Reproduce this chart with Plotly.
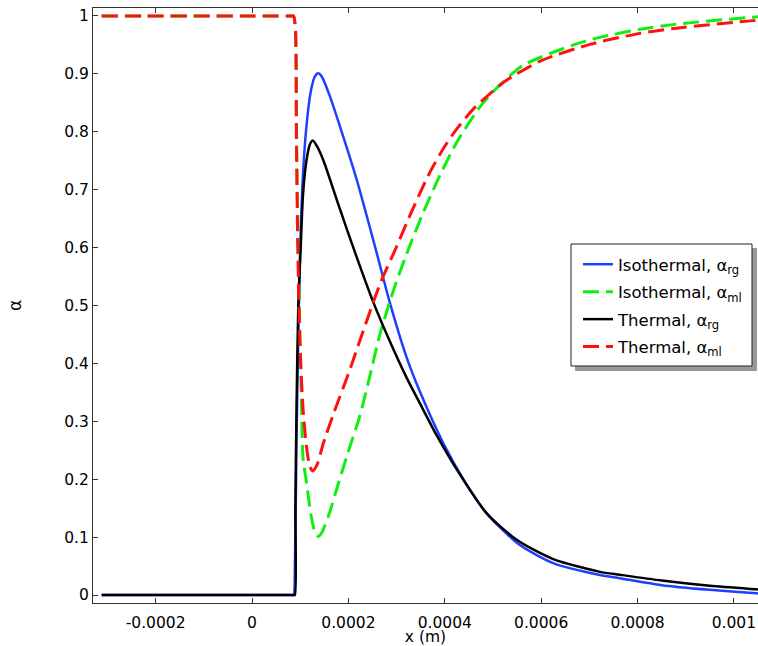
import plotly.graph_objects as go

# x in units of 1e-4 m
iso_rg_x = [-3.12, -2.0, -1.0, 0.0, 0.5, 0.8, 0.86, 0.89, 0.92, 0.96, 1.0, 1.06, 1.13, 1.22, 1.3,
            1.376, 1.45, 1.6, 1.826, 2.17, 2.59, 2.86, 3.21, 3.49, 3.97, 4.4, 4.87, 5.5, 6.25,
            7.22, 7.63, 8.5, 9.5, 10.47, 10.6]
iso_rg_y = [0, 0, 0, 0, 0, 0, 0, 0.05, 0.25, 0.45, 0.60, 0.73, 0.81, 0.87, 0.895,
            0.901, 0.895, 0.865, 0.809, 0.718, 0.59, 0.505, 0.41, 0.35, 0.262, 0.198, 0.141, 0.090,
            0.055, 0.0345, 0.029, 0.017, 0.009, 0.003, 0.002]

iso_ml_x = [-3.12, -2.0, -1.0, 0.0, 0.5, 0.8, 0.86, 0.90, 0.93, 0.97, 1.02, 1.06, 1.13, 1.22, 1.30,
            1.376, 1.45, 1.6, 1.8, 2.03, 2.24, 2.45, 2.66, 2.95, 3.24, 3.55, 3.90, 4.25, 4.73, 5.07,
            5.63, 6.67, 7.22, 8.05, 8.81, 10.4, 10.6]
iso_ml_y = [1, 1, 1, 1, 1, 1, 1, 0.97, 0.75, 0.55, 0.36, 0.235, 0.195, 0.14, 0.11,
            0.101, 0.108, 0.14, 0.195, 0.256, 0.31, 0.38, 0.452, 0.53, 0.596, 0.66, 0.725, 0.782,
            0.843, 0.875, 0.915, 0.950, 0.963, 0.977, 0.986, 0.998, 0.999]

th_rg_x = [-3.12, -2.0, -1.0, 0.0, 0.5, 0.8, 0.87, 0.89, 0.90, 0.92, 0.96, 1.01, 1.06, 1.13, 1.2,
           1.26, 1.35, 1.48, 1.83, 2.17, 2.52, 2.85, 3.21, 3.49, 3.83, 4.3, 4.87, 5.5, 6.25, 7.22,
           7.63, 8.5, 9.5, 10.47, 10.6]
th_rg_y = [0, 0, 0, 0, 0, 0, 0, 0, 0.15, 0.3, 0.5, 0.60, 0.694, 0.75, 0.778,
           0.785, 0.775, 0.751, 0.665, 0.584, 0.505, 0.44, 0.375, 0.33, 0.276, 0.21, 0.141, 0.095,
           0.062, 0.040, 0.035, 0.025, 0.016, 0.0098, 0.009]

th_ml_x = [-3.12, -2.0, -1.0, 0.0, 0.5, 0.8, 0.86, 0.90, 0.92, 0.95, 1.0, 1.06, 1.13, 1.2, 1.26,
           1.35, 1.48, 1.7, 2.0, 2.17, 2.4, 2.66, 2.97, 3.3, 3.69, 4.0, 4.25, 4.6, 4.94, 5.28, 5.98,
           7.01, 8.05, 8.81, 10.4, 10.6]
th_ml_y = [1, 1, 1, 1, 1, 1, 1, 0.98, 0.80, 0.60, 0.42, 0.32, 0.256, 0.222, 0.214,
           0.225, 0.262, 0.315, 0.382, 0.423, 0.478, 0.538, 0.596, 0.66, 0.73, 0.775, 0.805, 0.84,
           0.866, 0.889, 0.922, 0.951, 0.970, 0.979, 0.992, 0.993]

xtick_vals = [-0.0002, 0, 0.0002, 0.0004, 0.0006, 0.0008, 0.001]
xtick_text = ["-0.0002", "0", "0.0002", "0.0004", "0.0006", "0.0008", "0.001"]
ytick_vals = [0, 0.1, 0.2, 0.3, 0.4, 0.5, 0.6, 0.7, 0.8, 0.9, 1]
ytick_text = ["0", "0.1", "0.2", "0.3", "0.4", "0.5", "0.6", "0.7", "0.8", "0.9", "1"]

def sc(xs):
    return [v * 1e-4 for v in xs]

def line(color, dash=None, width=2.5):
    return dict(color=color, width=width, dash=dash, shape="spline", smoothing=0.7)

fig = go.Figure()
fig.add_trace(go.Scatter(x=sc(iso_rg_x), y=iso_rg_y, mode="lines", name="Isothermal, α<sub>rg</sub>",
                         line=line("#1f3fff"), legendgroup="a"))
fig.add_trace(go.Scatter(x=sc(iso_ml_x), y=iso_ml_y, mode="lines", name="Isothermal, α<sub>ml</sub>",
                         line=line("#11ee11", "16px,7px", 3), legendgroup="b"))
fig.add_trace(go.Scatter(x=sc(th_rg_x), y=th_rg_y, mode="lines", name="Thermal, α<sub>rg</sub>",
                         line=line("black"), legendgroup="c"))
fig.add_trace(go.Scatter(x=sc(th_ml_x), y=th_ml_y, mode="lines", name="Thermal, α<sub>ml</sub>",
                         line=line("#ff1111", "16px,7px", 3), legendgroup="d"))

W, H = 758, 646
L, R, T, B = 93, 0, 8, 43
pw, ph = W - L - R, H - T - B

def px(x):
    return (x - L) / pw

def py(y):
    return (H - B - y) / ph

# legend shadow and box
fig.add_shape(type="rect", xref="paper", yref="paper",
              x0=px(575), x1=px(757), y0=py(371), y1=py(248),
              fillcolor="#999999", line=dict(width=0), layer="above")
fig.add_shape(type="rect", xref="paper", yref="paper",
              x0=px(571), x1=px(752), y0=py(366), y1=py(244),
              fillcolor="white", line=dict(color="#222", width=1), layer="above")

fig.update_layout(
    width=W, height=H,
    margin=dict(l=L, r=R, t=T, b=B),
    paper_bgcolor="white", plot_bgcolor="white",
    font=dict(family="DejaVu Sans", size=15.5, color="black"),
    showlegend=True,
    legend=dict(x=px(578), y=py(247), xanchor="left", yanchor="top",
                bgcolor="rgba(0,0,0,0)", borderwidth=0,
                tracegroupgap=3, font=dict(size=16.5)),
    xaxis=dict(range=[-3.30e-4, 10.50e-4], tickvals=xtick_vals, ticktext=xtick_text,
               ticks="inside", ticklen=5, tickcolor="#333", showline=True, linecolor="#333",
               mirror="ticks", showgrid=False, zeroline=False, ticklabelstandoff=5,
               ticklabeloverflow="allow",
               title=dict(text="x (m)", standoff=2, font=dict(size=15.5))),
    yaxis=dict(range=[-0.0138, 1.0138], tickvals=ytick_vals, ticktext=ytick_text,
               ticks="inside", ticklen=5, tickcolor="#333", showline=True, linecolor="#333",
               showgrid=False, zeroline=False, ticklabeloverflow="allow",
               title=dict(text="α", standoff=38, font=dict(size=17))),
)

# drop the page's default body margin so the figure fills the window
fig.write_html("out.html", config={"displayModeBar": False},
               post_script="document.body.style.margin='0';document.body.style.overflow='hidden';")
